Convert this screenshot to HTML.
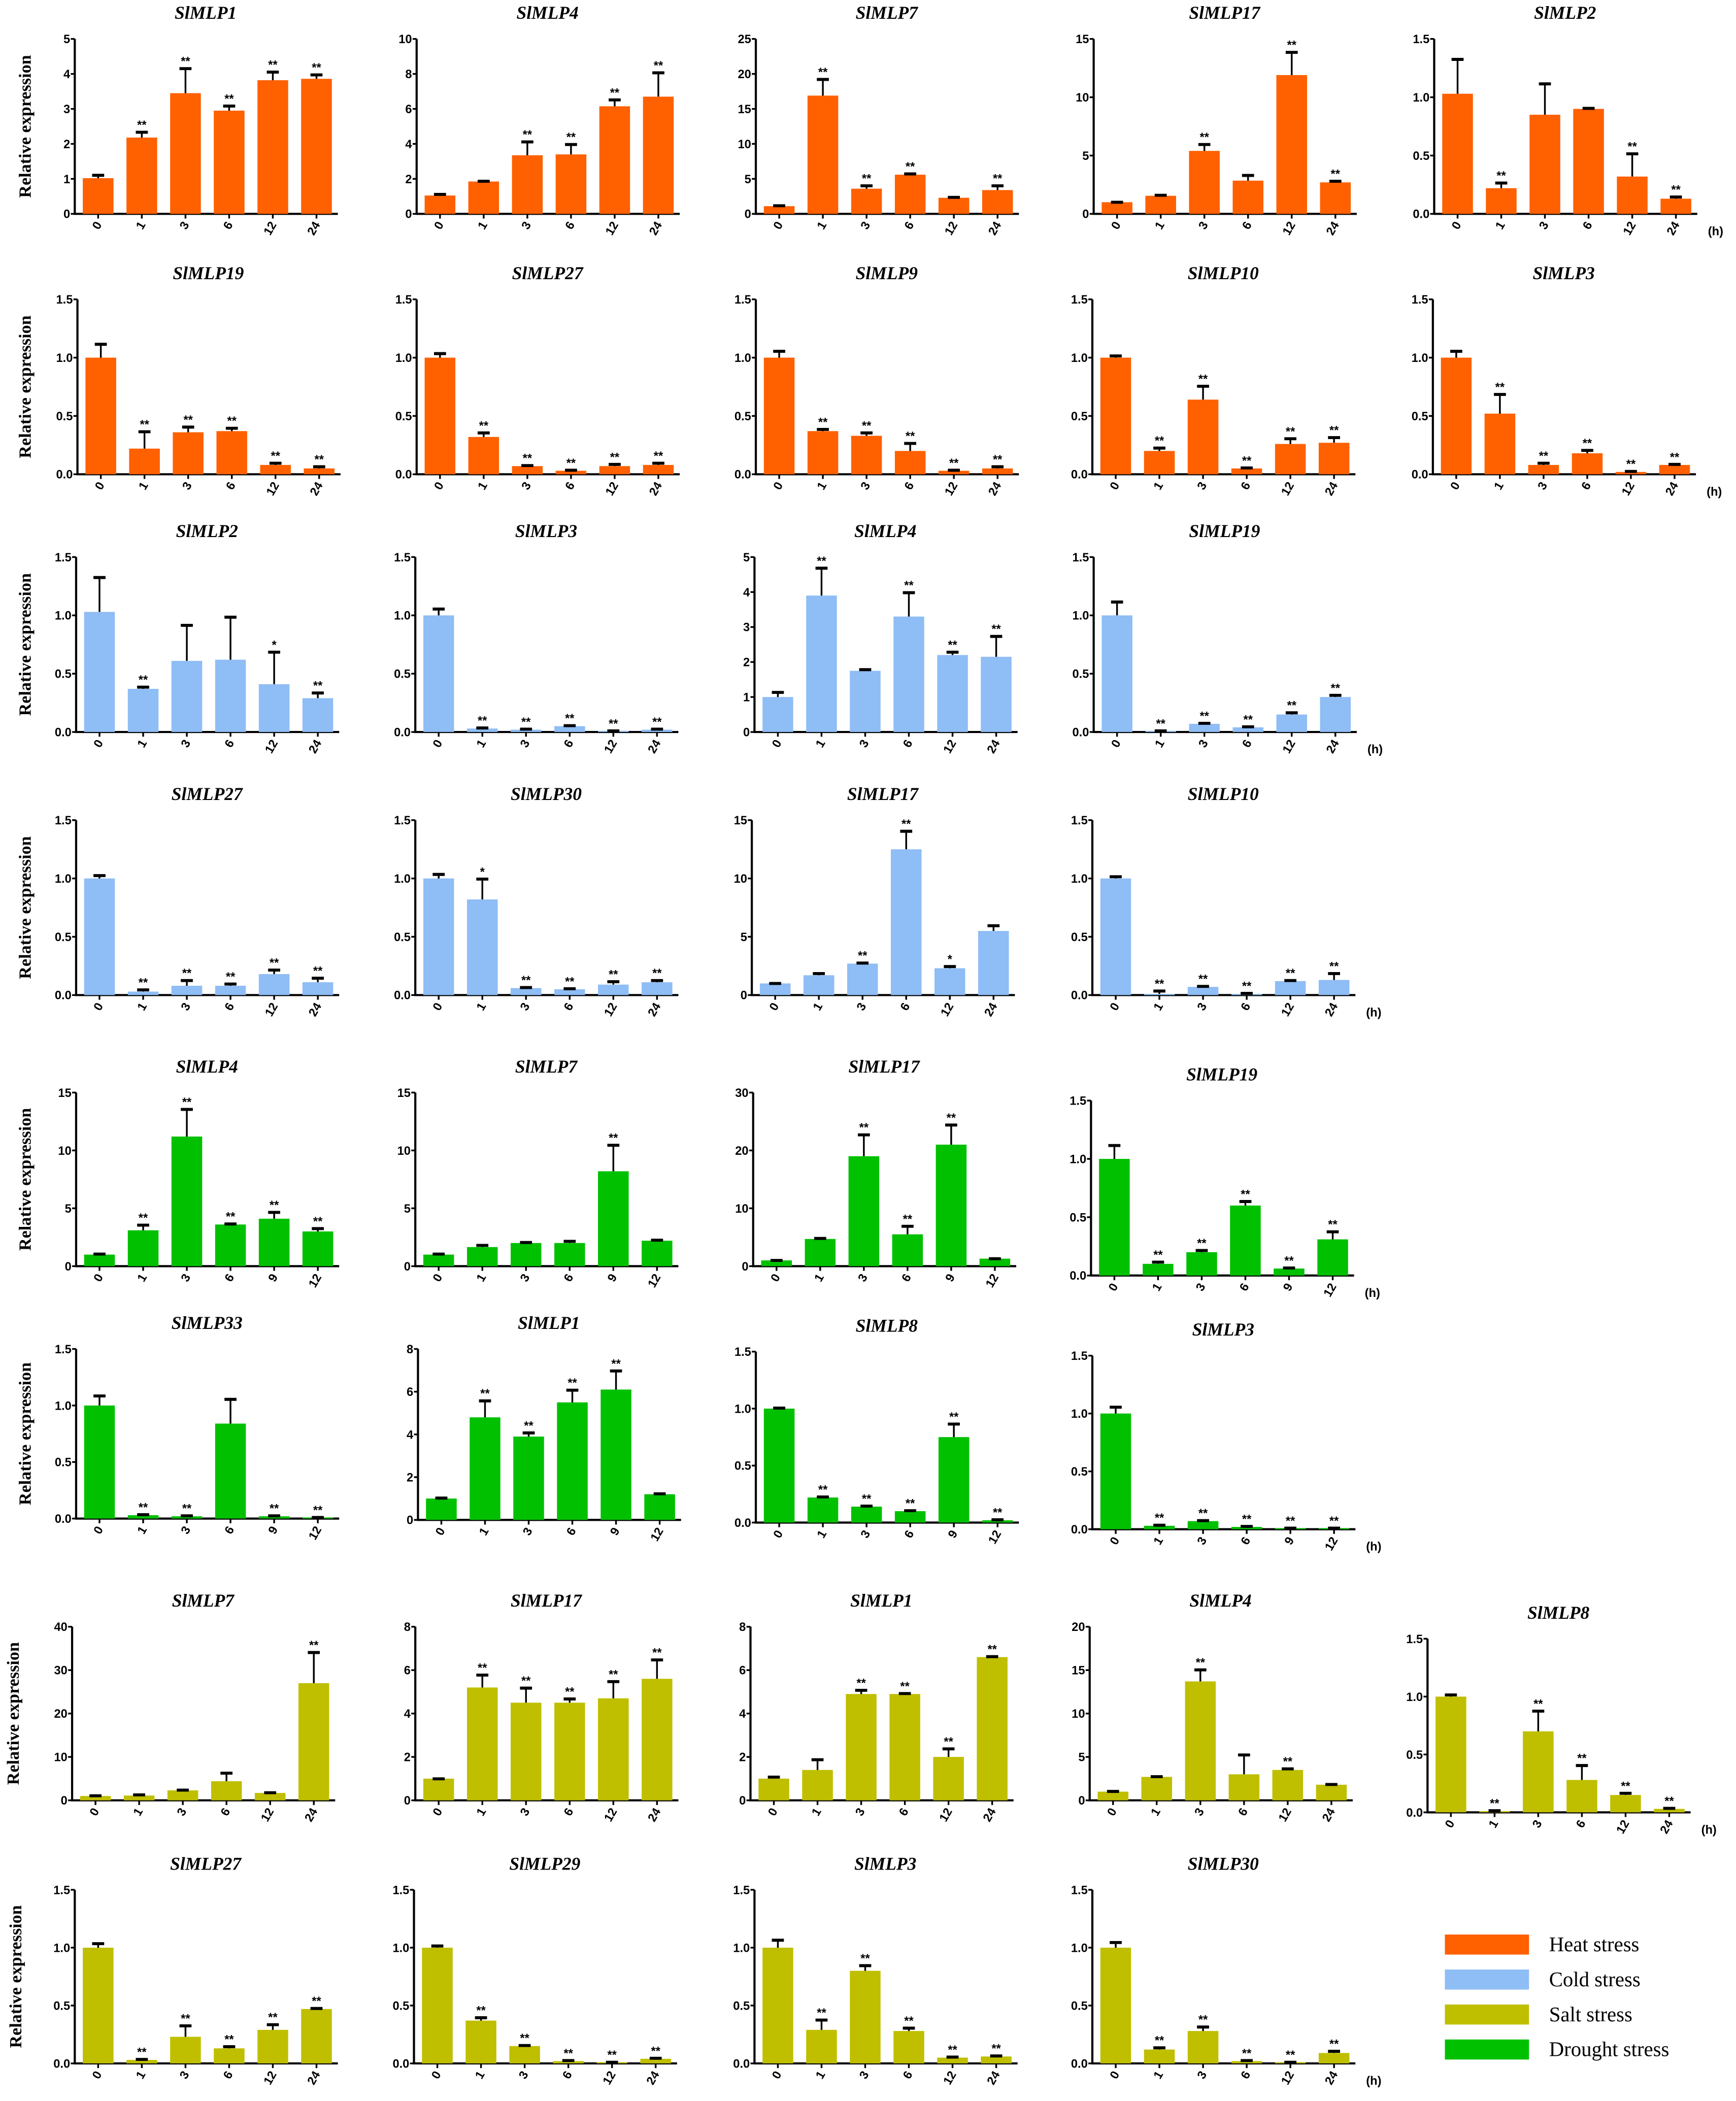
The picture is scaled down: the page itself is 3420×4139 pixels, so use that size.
<!DOCTYPE html>
<html><head><meta charset="utf-8">
<style>
html,body{margin:0;padding:0;background:#fff;}
svg{display:block;}
.tl{font-family:"Liberation Sans",sans-serif;font-weight:bold;font-size:9px;fill:#000;}
.ttl{font-family:"Liberation Serif",serif;font-weight:bold;font-style:italic;font-size:13.5px;fill:#000;}
.yl{font-family:"Liberation Serif",serif;font-weight:bold;font-size:13px;fill:#000;}
.sig{font-family:"Liberation Sans",sans-serif;font-weight:bold;font-size:9px;fill:#000;}
.lg{font-family:"Liberation Serif",serif;font-size:15.5px;fill:#000;}
</style></head>
<body>
<svg id="fig" width="3420" height="4139" viewBox="0 0 1300 1573" xmlns="http://www.w3.org/2000/svg"></svg>
<script>
const chartTitles = ["SlMLP1","SlMLP4","SlMLP7","SlMLP17","SlMLP2",
"SlMLP19","SlMLP27","SlMLP9","SlMLP10","SlMLP3",
"SlMLP2","SlMLP3","SlMLP4","SlMLP19",
"SlMLP27","SlMLP30","SlMLP17","SlMLP10",
"SlMLP4","SlMLP7","SlMLP17","SlMLP19",
"SlMLP33","SlMLP1","SlMLP8","SlMLP3",
"SlMLP7","SlMLP17","SlMLP1","SlMLP4","SlMLP8",
"SlMLP27","SlMLP29","SlMLP3","SlMLP30"];
const chartStress = ["heat","heat","heat","heat","heat","heat","heat","heat","heat","heat",
"cold","cold","cold","cold","cold","cold","cold","cold",
"drought","drought","drought","drought","drought","drought","drought","drought",
"salt","salt","salt","salt","salt","salt","salt","salt","salt"];
const chartYMax = [5,10,25,15,1.5, 1.5,1.5,1.5,1.5,1.5, 1.5,1.5,5,1.5, 1.5,1.5,15,1.5, 15,15,30,1.5, 1.5,8,1.5,1.5, 40,8,8,20,1.5, 1.5,1.5,1.5,1.5];
const chartYStep = [1,2,5,5,0.5, 0.5,0.5,0.5,0.5,0.5, 0.5,0.5,1,0.5, 0.5,0.5,5,0.5, 5,5,10,0.5, 0.5,2,0.5,0.5, 10,2,2,5,0.5, 0.5,0.5,0.5,0.5];
const timesHeat = ["0","1","3","6","12","24"];
const timesDrought = ["0","1","3","6","9","12"];
const chartValues = [
[1.02,2.18,3.45,2.95,3.82,3.86],[1.05,1.85,3.35,3.4,6.15,6.7],[1.1,16.9,3.6,5.6,2.3,3.4],[1.0,1.55,5.4,2.85,11.9,2.7],[1.03,0.22,0.85,0.9,0.32,0.13],
[1.0,0.22,0.36,0.37,0.08,0.05],[1.0,0.32,0.07,0.03,0.07,0.08],[1.0,0.37,0.33,0.2,0.03,0.05],[1.0,0.2,0.64,0.05,0.26,0.27],[1.0,0.52,0.08,0.18,0.02,0.08],
[1.03,0.37,0.61,0.62,0.41,0.29],[1.0,0.03,0.02,0.05,0.01,0.02],[1.0,3.9,1.75,3.3,2.2,2.15],[1.0,0.01,0.07,0.04,0.15,0.3],
[1.0,0.03,0.08,0.08,0.18,0.11],[1.0,0.82,0.06,0.05,0.09,0.11],[1.0,1.7,2.7,12.5,2.3,5.5],[1.0,0.01,0.07,0.01,0.12,0.13],
[1.0,3.1,11.2,3.6,4.1,3.0],[1.0,1.65,2.0,2.0,8.2,2.2],[1.0,4.7,19.0,5.5,21.0,1.3],[1.0,0.1,0.2,0.6,0.06,0.31],
[1.0,0.03,0.02,0.84,0.02,0.01],[1.0,4.8,3.9,5.5,6.1,1.2],[1.0,0.22,0.14,0.1,0.75,0.02],[1.0,0.03,0.07,0.02,0.01,0.01],
[1.0,1.1,2.3,4.4,1.7,27.0],[1.0,5.2,4.5,4.5,4.7,5.6],[1.0,1.4,4.9,4.9,2.0,6.6],[1.0,2.7,13.7,3.0,3.5,1.8],[1.0,0.01,0.7,0.28,0.15,0.03],
[1.0,0.03,0.23,0.13,0.29,0.47],[1.0,0.37,0.15,0.02,0.01,0.04],[1.0,0.29,0.8,0.28,0.05,0.06],[1.0,0.12,0.28,0.02,0.01,0.09]];
const chartErrors = [
[0.1,0.17,0.72,0.15,0.25,0.13],[0.1,0.05,0.8,0.6,0.4,1.4],[0.15,2.4,0.5,0.2,0.15,0.7],[0.05,0.1,0.6,0.5,2.0,0.15],[0.3,0.05,0.27,0.01,0.2,0.02],
[0.12,0.15,0.05,0.03,0.02,0.02],[0.04,0.04,0.01,0.01,0.02,0.02],[0.06,0.02,0.03,0.07,0.01,0.02],[0.02,0.03,0.12,0.01,0.05,0.05],[0.06,0.17,0.02,0.03,0.01,0.01],
[0.3,0.02,0.31,0.37,0.28,0.05],[0.06,0.01,0.01,0.01,0.005,0.01],[0.15,0.8,0.05,0.7,0.1,0.6],[0.12,0.005,0.01,0.01,0.02,0.02],
[0.03,0.02,0.05,0.02,0.04,0.04],[0.04,0.18,0.01,0.01,0.03,0.02],[0.05,0.2,0.1,1.6,0.2,0.5],[0.02,0.03,0.01,0.01,0.01,0.06],
[0.1,0.5,2.4,0.1,0.6,0.3],[0.1,0.2,0.1,0.2,2.3,0.1],[0.1,0.2,3.8,1.5,3.5,0.1],[0.12,0.02,0.02,0.04,0.01,0.07],
[0.09,0.01,0.01,0.22,0.01,0.005],[0.05,0.8,0.2,0.6,0.9,0.05],[0.01,0.01,0.01,0.01,0.12,0.01],[0.06,0.01,0.01,0.01,0.005,0.005],
[0.2,0.3,0.2,2.0,0.2,7.2],[0.02,0.6,0.7,0.2,0.8,0.9],[0.1,0.5,0.2,0.05,0.4,0.05],[0.1,0.1,1.4,2.3,0.2,0.1],[0.02,0.01,0.18,0.13,0.02,0.01],
[0.04,0.01,0.1,0.02,0.05,0.01],[0.02,0.03,0.01,0.01,0.005,0.01],[0.07,0.09,0.05,0.03,0.01,0.01],[0.05,0.02,0.04,0.01,0.005,0.02]];
const A="**";
const chartSig = [
["",A,A,A,A,A],["","",A,A,A,A],["",A,A,A,"",A],["","",A,"",A,A],["",A,"","",A,A],
["",A,A,A,A,A],["",A,A,A,A,A],["",A,A,A,A,A],["",A,A,A,A,A],["",A,A,A,A,A],
["",A,"","","*",A],["",A,A,A,A,A],["",A,"",A,A,A],["",A,A,A,A,A],
["",A,A,A,A,A],["","*",A,A,A,A],["","",A,A,"*",""],["",A,A,A,A,A],
["",A,A,A,A,A],["","","","",A,""],["","",A,A,A,""],["",A,A,A,A,A],
["",A,A,"",A,A],["",A,A,A,A,""],["",A,A,A,A,A],["",A,A,A,A,A],
["","","","","",A],["",A,A,A,A,A],["","",A,A,A,A],["","",A,"",A,""],["",A,A,A,A,A],
["",A,A,A,A,A],["",A,A,A,A,A],["",A,A,A,A,A],["",A,A,A,A,A]];
const legendLabels = ["Heat stress","Cold stress","Salt stress","Drought stress"];
const legendKeys = ["heat","cold","salt","drought"];

// layout (not data)
const colors = {heat:"#FF6000",cold:"#8FBDF5",salt:"#BFBF00",drought:"#00C000"};
const rows = [
 {top:29,zero:160,xs:[56,312,566,819,1074],start:0,yl:19},
 {top:224,zero:355,xs:[58,312,566,818,1073],start:5,yl:19},
 {top:417,zero:548,xs:[57,311,565,819],start:10,yl:19},
 {top:614,zero:745,xs:[57,311,563,818],start:14,yl:19},
 {top:818,zero:948,xs:[57,311,564,817],start:18,yl:19,dr:true},
 {top:1010,zero:1137,xs:[57,313,566,818],start:22,yl:19,dr:true},
 {top:1218,zero:1348,xs:[54,311,562,816,1069],start:26,yl:10},
 {top:1415,zero:1545,xs:[56,310,565,818],start:31,yl:12}
];
const NS="http://www.w3.org/2000/svg";
const svg=document.getElementById('fig');
function mk(tag,attrs,parent){const e=document.createElementNS(NS,tag);for(const k in attrs)e.setAttribute(k,attrs[k]);(parent||svg).appendChild(e);return e;}

rows.forEach((r,ri)=>{
  r.xs.forEach((x0,ci)=>{
    const idx=r.start+ci;
    let top=r.top,zero=r.zero;
    if(ri===5&&ci>=1){top+= [0,0,2,5][ci];zero+=[0,1,3,8][ci];}
    if(ri===6&&ci===4){top+=9;zero+=9;}
    if(ri===4&&ci===3){top+=6;zero+=7;}
    const g=mk('g',{});
    
    
    const W=197,ymax=chartYMax[idx],step=chartYStep[idx];
    const ys=v=>zero-(v/ymax)*(zero-top);
    const xc=i=>x0+17.5+i*32.7;
    const t=mk('text',{x:x0+98,y:top-15,'text-anchor':'middle',class:'ttl'},g);
    t.textContent=chartTitles[idx];
    
    
    // axes
    const ax=mk('path',{d:`M${x0},${top} V${zero} H${x0+W}`,stroke:'#000','stroke-width':1.6,fill:'none'},g);
    
    
    const dec=step<1;
    for(let v=0;v<=ymax+1e-9;v+=step){
      const y=ys(v);
      mk('line',{x1:x0-3,x2:x0,y1:y,y2:y,stroke:'#000','stroke-width':1.3},g);
      const tl=mk('text',{x:x0-3.5,y:y+3.2,'text-anchor':'end',class:'tl'},g);
      tl.textContent=dec?v.toFixed(1):String(Math.round(v));
      
      
    }
    const times=r.dr?timesDrought:timesHeat;
    chartValues[idx].forEach((v,i)=>{
      const cx=xc(i);
      const b=mk('rect',{x:cx-11.5,y:ys(v),width:23,height:zero-ys(v),fill:colors[chartStress[idx]]},g);
      
      
      const ye=ys(v+chartErrors[idx][i]);
      const eb=mk('path',{d:`M${cx},${ys(v)} V${ye} M${cx-4.5},${ye} H${cx+4.5}`,stroke:'#000','stroke-width':1.3,fill:'none'},g);
      mk('line',{x1:cx-4.5,x2:cx+4.5,y1:ye+0.8,y2:ye+0.8,stroke:'#000','stroke-width':1.6},g);
      
      
      if(chartSig[idx][i]){
        const s=mk('text',{x:cx,y:ye-2,'text-anchor':'middle',class:'sig'},g);
        s.textContent=chartSig[idx][i];
        
        
      }
      mk('line',{x1:cx,x2:cx,y1:zero,y2:zero+3.5,stroke:'#000','stroke-width':1.3},g);
      const xl=mk('text',{x:0,y:0,'text-anchor':'end',class:'tl',transform:`translate(${cx+3},${zero+8}) rotate(-60)`},g);
      xl.textContent=times[i];
      
      
    });
    if(ci===0){
      const yl=mk('text',{x:0,y:0,'text-anchor':'middle',class:'yl',transform:`translate(${r.yl+4},${(top+zero)/2}) rotate(-90)`},g);
      yl.textContent='Relative expression';
      
      
    }
    if(ci===r.xs.length-1){
      const h=mk('text',{x:x0+W+8,y:zero+16,class:'tl','font-size':'10'},g);
      h.textContent='(h)';
      
      
    }
  });
});
// legend
legendLabels.forEach((lab,i)=>{
  const y=1456+i*26.2;
  const r=mk('rect',{x:1082,y:y-7.5,width:63,height:15,fill:colors[legendKeys[i]]});
  
  
  const t=mk('text',{x:1160,y:y+5,class:'lg'});
  t.textContent=lab;
  
  
});
</script>
</body></html>
